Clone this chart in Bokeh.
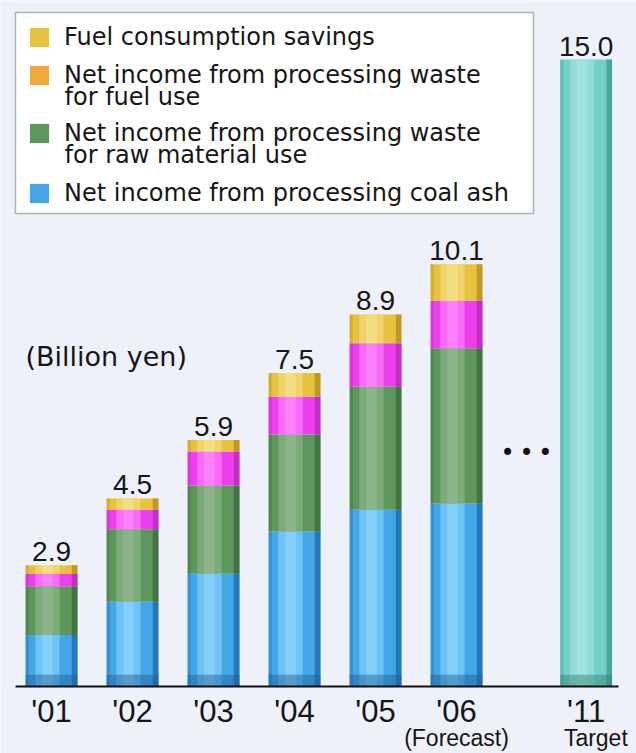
from bokeh.plotting import figure
from bokeh.models import (ColumnDataSource, Legend, LegendItem, Label, FixedTicker,
                          Range1d, LinearAxis, BoxAnnotation)
from bokeh.transform import dodge
from bokeh.embed import file_html
from bokeh.resources import INLINE
from bokeh.core.properties import value

# ---- data (billion yen) ----
years = ["'01", "'02", "'03", "'04", "'05", "'06"]
totals = [2.9, 4.5, 5.9, 7.5, 8.9, 10.1]
coal_ash = [1.23, 2.03, 2.70, 3.71, 4.23, 4.38]
raw_material = [1.17, 1.73, 2.11, 2.32, 2.94, 3.71]
fuel_use = [0.29, 0.47, 0.81, 0.90, 1.04, 1.14]
fuel_savings = [0.21, 0.27, 0.28, 0.57, 0.69, 0.87]
target_year = "'11"
target_value = 15.0
sub_labels = ["(Forecast)", "Target"]
unit_label = "(Billion yen)"
legend_labels = [
    ["Fuel consumption savings"],
    ["Net income from processing waste", "for fuel use"],
    ["Net income from processing waste", "for raw material use"],
    ["Net income from processing coal ash"],
]

TEXT_FONT = "DejaVu Sans"
NUM_FONT = "Liberation Sans"
INK = "#161616"
BG = "#EEF0FA"

XPX = 81.0      # pixels per category step
YPX = 41.8      # pixels per billion yen
X0 = -0.63
FRAME_H = 686

xs = list(range(len(years)))
target_x = len(years) + 0.6
BW = 0.64
BASE_SHADE = 0.28   # height of the darker foot of each bar (style)

p = figure(width=636, height=753, output_backend="svg", toolbar_location=None,
           x_range=Range1d(X0, X0 + 636 / XPX), y_range=Range1d(0, FRAME_H / YPX),
           min_border_left=0, min_border_right=0, min_border_top=0, min_border_bottom=67,
           x_axis_location=None, y_axis_location=None)
p.background_fill_color = BG
p.border_fill_color = BG
p.outline_line_color = None
p.grid.visible = False


def px_x(px):
    return X0 + px / XPX


def px_y(py):
    return (FRAME_H - py) / YPX


layers = [
    (coal_ash, "#42A6E8", "#92DAFC", "#1C6AA8"),
    (raw_material, "#5E975C", "#95BC94", "#3A6A39"),
    (fuel_use, "#EE3FEE", "#FF90FF", "#B52AB5"),
    (fuel_savings, "#E6C23E", "#F6E490", "#AE8C1E"),
]


def shaded(src, base, light, dark):
    r = p.vbar(x="x", width=BW, bottom="bottom", top="top", source=src,
               fill_color=base, line_color=None)
    p.vbar(x=dodge("x", -0.05, range=p.x_range), width=0.30, bottom="bottom", top="top",
           source=src, fill_color=light, fill_alpha=0.55, line_color=None)
    p.vbar(x=dodge("x", -0.05, range=p.x_range), width=0.13, bottom="bottom", top="top",
           source=src, fill_color=light, fill_alpha=0.6, line_color=None)
    p.vbar(x=dodge("x", 0.285, range=p.x_range), width=0.07, bottom="bottom", top="top",
           source=src, fill_color=dark, fill_alpha=0.75, line_color=None)
    p.vbar(x=dodge("x", -0.30, range=p.x_range), width=0.04, bottom="bottom", top="top",
           source=src, fill_color=dark, fill_alpha=0.35, line_color=None)
    return r, src


def foot(xvals, dark):
    src = ColumnDataSource(dict(x=xvals, bottom=[0] * len(xvals),
                                top=[BASE_SHADE] * len(xvals)))
    p.vbar(x="x", width=BW, bottom="bottom", top="top", source=src,
           fill_color=dark, fill_alpha=0.45, line_color=None)


renderers, sources = [], []
cum = [0.0] * len(years)
for vals, base, light, dark in layers:
    bottoms = cum[:]
    tops = [b + v for b, v in zip(bottoms, vals)]
    r, s = shaded(ColumnDataSource(dict(x=xs, bottom=bottoms, top=tops)), base, light, dark)
    renderers.append(r)
    sources.append(s)
    cum = tops
foot(xs, "#1C5E96")

shaded(ColumnDataSource(dict(x=[target_x], bottom=[0], top=[target_value])),
       "#72D0C7", "#AEE6E1", "#3C9A90")
foot([target_x], "#2E7F74")

# value labels
lab_src = ColumnDataSource(dict(
    x=xs + [target_x],
    y=totals + [target_value],
    t=[f"{v:.1f}" for v in totals] + [f"{target_value:.1f}"],
))
p.text(x="x", y="y", text="t", source=lab_src, text_align="center",
       text_baseline="bottom", y_offset=-4, text_font=value(NUM_FONT),
       text_font_size="28px", text_color=INK)

# main x axis
ticks = xs + [target_x]
ax = LinearAxis(ticker=FixedTicker(ticks=ticks),
                major_label_overrides={t: lab for t, lab in zip(ticks, years + [target_year])})
ax.axis_line_color = "#111111"
ax.axis_line_width = 2
ax.bounds = (-0.44, 7.0)
ax.major_tick_line_color = None
ax.minor_tick_line_color = None
ax.major_tick_out = 0
ax.major_tick_in = 0
ax.minor_tick_out = 0
ax.major_label_text_font = NUM_FONT
ax.major_label_text_font_size = "31px"
ax.major_label_text_color = INK
ax.major_label_standoff = 7
p.add_layout(ax, "below")

# second row of tick labels
sub_ticks = [xs[-1], target_x + 0.12]
ax2 = LinearAxis(ticker=FixedTicker(ticks=sub_ticks),
                 major_label_overrides={t: lab for t, lab in zip(sub_ticks, sub_labels)})
ax2.axis_line_color = None
ax2.major_tick_line_color = None
ax2.minor_tick_line_color = None
ax2.major_tick_out = 0
ax2.major_tick_in = 0
ax2.minor_tick_out = 0
ax2.major_label_text_font = NUM_FONT
ax2.major_label_text_font_size = "23px"
ax2.major_label_text_color = INK
ax2.major_label_standoff = -7
p.add_layout(ax2, "below")

p.add_layout(Label(x=px_x(25), y=px_y(356), text=unit_label, text_align="left",
                   text_baseline="middle", text_font=TEXT_FONT, text_font_size="27px",
                   text_color=INK))
p.add_layout(Label(x=px_x(526), y=px_y(452), text="\u2022\u2009\u2022\u2009\u2022",
                   text_align="center", text_baseline="middle", text_font=TEXT_FONT,
                   text_font_size="24px", text_color="#111111"))

# ---- legend: framed box with one key per series ----
p.add_layout(BoxAnnotation(left=px_x(15), right=px_x(533), top=px_y(12), bottom=px_y(213),
                           fill_color="#FFFFFF", fill_alpha=1.0,
                           line_color="#111111", line_width=1.5))

orange_key = p.vbar(x="x", width=0, bottom="bottom", top="top", source=sources[2],
                    fill_color="#F2A93B", line_color=None)
leg_renderers = [renderers[3], orange_key, renderers[1], renderers[0]]
first_line_centers = [37, 75, 133, 193]
LEG_FS = 24
ITEM_H = 28
for lines, r, cy in zip(legend_labels, leg_renderers, first_line_centers):
    lg = Legend(items=[LegendItem(label=lines[0], renderers=[r])],
                location=(27, FRAME_H - cy - ITEM_H / 2))
    lg.label_text_font = TEXT_FONT
    lg.label_text_font_size = f"{LEG_FS}px"
    lg.label_text_color = INK
    lg.glyph_width = 24
    lg.glyph_height = 24
    lg.label_height = ITEM_H
    lg.label_standoff = 13
    lg.padding = 0
    lg.margin = 0
    lg.spacing = 0
    lg.border_line_color = None
    lg.background_fill_alpha = 0
    p.add_layout(lg)
    for k, extra in enumerate(lines[1:], start=1):
        p.add_layout(Label(x=px_x(64), y=px_y(cy + 21.5 * k), text=extra,
                           text_align="left", text_baseline="middle",
                           text_font=TEXT_FONT, text_font_size=f"{LEG_FS}px",
                           text_color=INK))

open("out.html", "w").write(file_html(p, INLINE))
